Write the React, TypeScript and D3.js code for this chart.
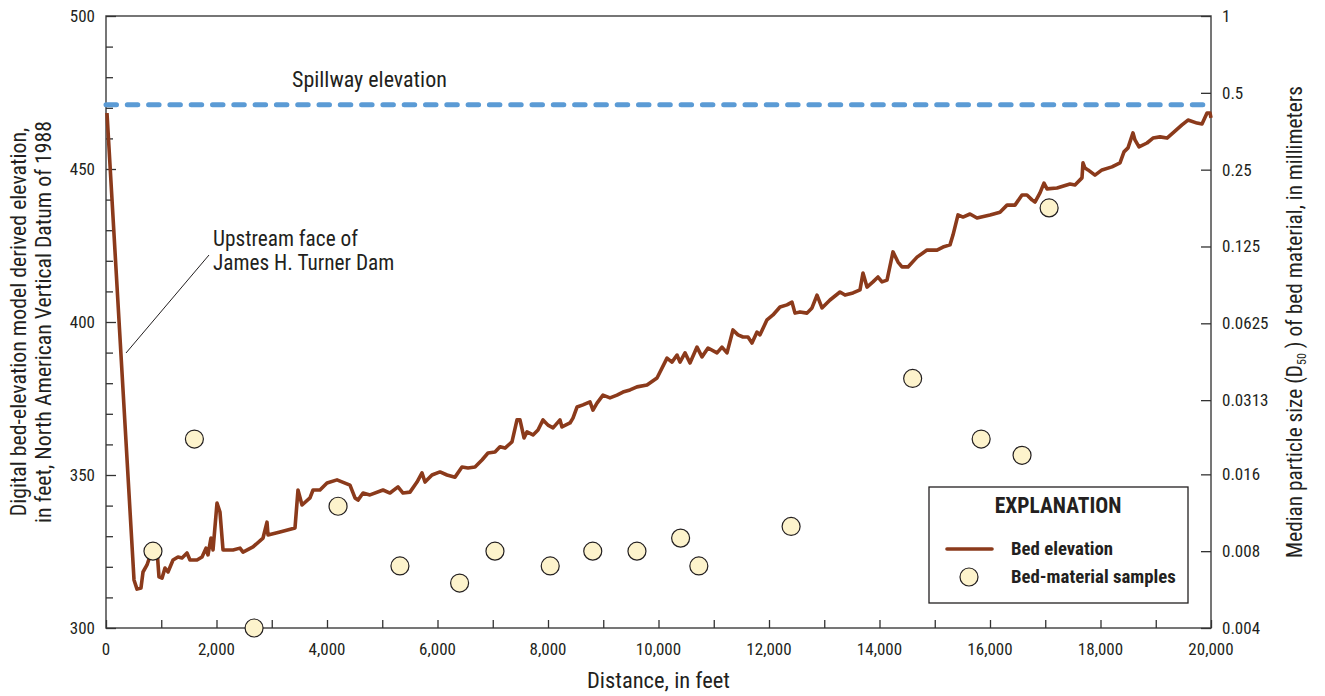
import React, { useRef, useEffect } from 'react';
import * as d3 from 'd3';

// bed elevation profile, distance in feet, elevation in feet NAVD 88
const bedDistance = [
  18, 507, 561, 633, 670, 742, 833, 923, 959, 1014, 1068, 1122, 1213, 1303, 1376, 1466, 1520, 1647, 1738, 1810,
  1846, 1900, 1937, 2009, 2063, 2118, 2299, 2425, 2480, 2661, 2842, 2914, 2932, 3149, 3421, 3475, 3548, 3692, 3747, 3873,
  4000, 4181, 4416, 4507, 4561, 4652, 4778, 5014, 5140, 5285, 5376, 5502, 5629, 5719, 5774, 5900, 6045, 6172, 6317, 6443,
  6552, 6679, 6805, 6914, 7041, 7131, 7222, 7348, 7439, 7493, 7566, 7620, 7729, 7819, 7910, 8000, 8091, 8217, 8253, 8398,
  8452, 8525, 8633, 8760, 8814, 8887, 8995, 9122, 9249, 9357, 9484, 9611, 9792, 9973, 10154, 10244, 10335, 10389, 10480, 10570,
  10697, 10787, 10896, 11059, 11149, 11240, 11348, 11439, 11529, 11620, 11692, 11783, 11837, 11964, 12072, 12199, 12326, 12416, 12471, 12561,
  12688, 12778, 12869, 12959, 13104, 13285, 13376, 13520, 13647, 13701, 13774, 13882, 13973, 14045, 14136, 14244, 14335, 14407, 14516, 14679,
  14860, 15041, 15149, 15276, 15330, 15421, 15511, 15638, 15765, 16000, 16181, 16308, 16452, 16579, 16669, 16760, 16814, 16905, 16977, 17032,
  17213, 17448, 17538, 17665, 17683, 17719, 17774, 17900, 18027, 18208, 18353, 18425, 18498, 18588, 18624, 18697, 18842, 18950, 19077, 19204,
  19312, 19475, 19584, 19747, 19837, 19928, 19982, 20000
];
const bedElevation = [
  468.3, 315.7, 312.7, 313.1, 318.3, 320.6, 325.5, 325.5, 316.7, 316.3, 319.6, 318.3, 322.2, 323.2, 322.9, 324.5, 322.2, 322.2, 323.2, 326.1,
  323.9, 329.4, 325.5, 340.8, 337.9, 325.5, 325.5, 326.1, 324.8, 326.5, 329.4, 334.6, 330.4, 331.4, 332.7, 345.1, 340.2, 342.5, 345.1, 345.1,
  347.4, 348.4, 346.7, 342.5, 341.8, 344.1, 343.5, 345.1, 344.1, 346.1, 344.1, 344.4, 347.7, 350.7, 347.7, 350.0, 351.0, 350.0, 349.3, 352.6,
  352.3, 352.6, 354.9, 357.2, 357.5, 359.2, 358.8, 360.8, 368.0, 368.0, 362.1, 364.1, 363.1, 364.7, 368.0, 366.3, 365.4, 368.0, 365.7, 367.0,
  368.6, 372.2, 372.9, 373.9, 371.2, 373.5, 376.1, 375.2, 376.1, 377.1, 377.8, 378.8, 379.4, 381.7, 388.2, 386.9, 389.2, 386.9, 389.9, 386.6,
  391.8, 388.6, 391.5, 389.9, 391.8, 389.9, 397.4, 395.8, 395.1, 395.1, 393.1, 396.7, 395.8, 400.7, 402.3, 404.9, 405.6, 406.5, 402.9, 403.3,
  402.9, 404.6, 408.8, 404.6, 407.2, 409.8, 408.8, 409.5, 410.5, 416.0, 411.4, 413.1, 414.7, 413.1, 413.7, 422.9, 419.6, 418.0, 418.0, 421.2,
  423.5, 423.5, 424.5, 425.2, 428.4, 435.0, 434.3, 435.3, 434.0, 435.0, 435.9, 438.2, 438.2, 441.5, 441.5, 439.9, 439.2, 442.2, 445.4, 443.5,
  443.8, 445.1, 444.8, 447.1, 452.0, 450.3, 449.7, 448.0, 449.7, 450.7, 452.0, 455.6, 456.9, 461.8, 459.5, 457.2, 458.5, 460.1, 460.5, 460.1,
  461.8, 464.4, 466.0, 465.0, 464.7, 468.3, 468.3, 466.7
];

// bed-material samples, distance in feet, D50 in millimeters
const sampleDistance = [850, 1600, 2680, 4200, 5320, 6400, 7040, 8040, 8810, 9610, 10400, 10730, 12400, 14600, 15840, 16580, 17070];
const sampleD50 = [0.008, 0.022, 0.004, 0.012, 0.007, 0.006, 0.008, 0.007, 0.008, 0.008, 0.009, 0.007, 0.010, 0.038, 0.022, 0.019, 0.177];

const spillwayElevation = 471;

const xTicks = [0, 2000, 4000, 6000, 8000, 10000, 12000, 14000, 16000, 18000, 20000];
const yTicks = [300, 350, 400, 450, 500];
const rightTicks = [1, 0.5, 0.25, 0.125, 0.0625, 0.03125, 0.016, 0.008, 0.004];
const rightTickLabels = ['1', '0.5', '0.25', '0.125', '0.0625', '0.0313', '0.016', '0.008', '0.004'];

const FONT = '"Liberation Sans Narrow", "Arial Narrow", "Roboto Condensed", sans-serif';
const BROWN = '#8B3A1B';
const INK = '#231F20';

const App = () => {
  const svgRef = useRef(null);
  const width = 1325;
  const height = 696;
  const margin = { top: 16, right: 114, bottom: 68, left: 106 };

  useEffect(() => {
    const svg = d3.select(svgRef.current);
    svg.selectAll('*').remove();

    const x = d3.scaleLinear().domain([0, 20000]).range([margin.left, width - margin.right]);
    const y = d3.scaleLinear().domain([300, 500]).range([height - margin.bottom, margin.top]);
    const yR = d3.scaleLog().base(2).domain([0.004, 1]).range([height - margin.bottom, margin.top]);

    const g = svg.append('g').style('font-family', FONT);

    // frame
    g.append('rect')
      .attr('x', x(0)).attr('y', y(500))
      .attr('width', x(20000) - x(0)).attr('height', y(300) - y(500))
      .attr('fill', 'none').attr('stroke', '#4a4a4a').attr('stroke-width', 1.5);

    // bottom axis, ticks pointing inward
    const xAxis = g.append('g').attr('transform', `translate(0,${y(300)})`)
      .call(d3.axisBottom(x).tickValues(d3.range(0, 20001, 1000)).tickSizeInner(-8).tickSizeOuter(0).tickFormat(() => ''));
    xAxis.select('.domain').remove();
    xAxis.selectAll('line').attr('stroke', '#333').attr('stroke-width', 1.3);
    g.append('g').selectAll('text').data(xTicks).enter().append('text')
      .attr('x', d => x(d)).attr('y', 655)
      .attr('text-anchor', 'middle').attr('font-size', 17).attr('fill', INK)
      .text(d => d3.format(',')(d));

    // left axis: majors every 50, minors every 10
    const yAxis = g.append('g').attr('transform', `translate(${x(0)},0)`)
      .call(d3.axisLeft(y).tickValues(d3.range(300, 501, 10)).tickSizeOuter(0).tickFormat(() => ''));
    yAxis.select('.domain').remove();
    yAxis.selectAll('.tick line')
      .attr('x2', d => (d % 50 === 0 ? 10 : 7))
      .attr('stroke', '#333').attr('stroke-width', 1.3);
    g.append('g').selectAll('text').data(yTicks).enter().append('text')
      .attr('x', 95).attr('y', d => y(d)).attr('dy', '0.35em')
      .attr('text-anchor', 'end').attr('font-size', 17).attr('fill', INK)
      .text(d => d);

    // right axis, log base 2
    const rAxis = g.append('g').attr('transform', `translate(${x(20000)},0)`)
      .call(d3.axisRight(yR).tickValues(rightTicks).tickSizeInner(-10).tickSizeOuter(0).tickFormat(() => ''));
    rAxis.select('.domain').remove();
    rAxis.selectAll('line').attr('stroke', '#333').attr('stroke-width', 1.3);
    g.append('g').selectAll('text').data(rightTicks).enter().append('text')
      .attr('x', 1222).attr('y', d => yR(d)).attr('dy', '0.35em')
      .attr('font-size', 17).attr('fill', INK)
      .text((d, i) => rightTickLabels[i]);

    // axis titles
    const leftTitle = g.append('text').attr('transform', `translate(26,${(y(300) + y(500)) / 2}) rotate(-90)`)
      .attr('text-anchor', 'middle').attr('font-size', 21.8).attr('fill', INK);
    leftTitle.append('tspan').attr('x', 0).attr('y', 0).text('Digital bed-elevation model derived elevation,');
    leftTitle.append('tspan').attr('x', 0).attr('y', 25).text('in feet, North American Vertical Datum of 1988');

    const rightTitle = g.append('text').attr('transform', `translate(1302,${(y(300) + y(500)) / 2}) rotate(-90)`)
      .attr('text-anchor', 'middle').attr('font-size', 21.3).attr('fill', INK);
    rightTitle.append('tspan').text('Median particle size (D');
    rightTitle.append('tspan').attr('font-size', 12).attr('dy', 4).text('50');
    rightTitle.append('tspan').attr('dy', -4).text(' ) of bed material, in millimeters');

    g.append('text').attr('x', (x(0) + x(20000)) / 2).attr('y', 688)
      .attr('text-anchor', 'middle').attr('font-size', 22.5).attr('fill', INK)
      .text('Distance, in feet');

    // spillway
    g.append('line')
      .attr('x1', x(0)).attr('x2', x(20000))
      .attr('y1', y(spillwayElevation)).attr('y2', y(spillwayElevation))
      .attr('stroke', '#5B9BD5').attr('stroke-width', 5)
      .attr('stroke-linecap', 'round').attr('stroke-dasharray', '10.5,10.8');
    g.append('text').attr('x', 292).attr('y', 87)
      .attr('font-size', 22).attr('fill', INK).text('Spillway elevation');

    // bed elevation line
    const line = d3.line().x(d => x(d[0])).y(d => y(d[1]));
    g.append('path')
      .datum(bedDistance.map((d, i) => [d, bedElevation[i]]))
      .attr('d', line)
      .attr('fill', 'none').attr('stroke', BROWN).attr('stroke-width', 3.6)
      .attr('stroke-linejoin', 'round');

    // dam annotation
    g.append('line').attr('x1', 126).attr('y1', 353).attr('x2', 209).attr('y2', 255)
      .attr('stroke', INK).attr('stroke-width', 1);
    const ann = g.append('text').attr('font-size', 21.3).attr('fill', INK);
    ann.append('tspan').attr('x', 213).attr('y', 246).text('Upstream face of');
    ann.append('tspan').attr('x', 213).attr('y', 270).text('James H. Turner Dam');

    // samples
    g.append('g').selectAll('circle')
      .data(sampleDistance.map((d, i) => [d, sampleD50[i]]))
      .enter().append('circle')
      .attr('cx', d => x(d[0])).attr('cy', d => yR(d[1])).attr('r', 9)
      .attr('fill', '#FDF3CC').attr('stroke', INK).attr('stroke-width', 1.2);

    // legend
    const lg = g.append('g');
    lg.append('rect').attr('x', 929).attr('y', 487).attr('width', 259).attr('height', 116)
      .attr('fill', '#fff').attr('stroke', INK).attr('stroke-width', 1.3);
    lg.append('text').attr('x', 1058).attr('y', 513).attr('text-anchor', 'middle')
      .attr('font-size', 21.5).attr('font-weight', 'bold').attr('fill', INK).text('EXPLANATION');
    lg.append('line').attr('x1', 947).attr('x2', 992).attr('y1', 549).attr('y2', 549)
      .attr('stroke', BROWN).attr('stroke-width', 3.6).attr('stroke-linecap', 'round');
    lg.append('circle').attr('cx', 969).attr('cy', 577).attr('r', 9)
      .attr('fill', '#FDF3CC').attr('stroke', INK).attr('stroke-width', 1.2);
    lg.append('text').attr('x', 1011).attr('y', 555)
      .attr('font-size', 18.8).attr('font-weight', 'bold').attr('fill', INK).text('Bed elevation');
    lg.append('text').attr('x', 1011).attr('y', 583)
      .attr('font-size', 18.8).attr('font-weight', 'bold').attr('fill', INK).text('Bed-material samples');
  }, []);

  return (
    <svg ref={svgRef} width={width} height={height}
      style={{ position: 'absolute', left: 0, top: 0, display: 'block', background: '#fff' }} />
  );
};

export default App;
